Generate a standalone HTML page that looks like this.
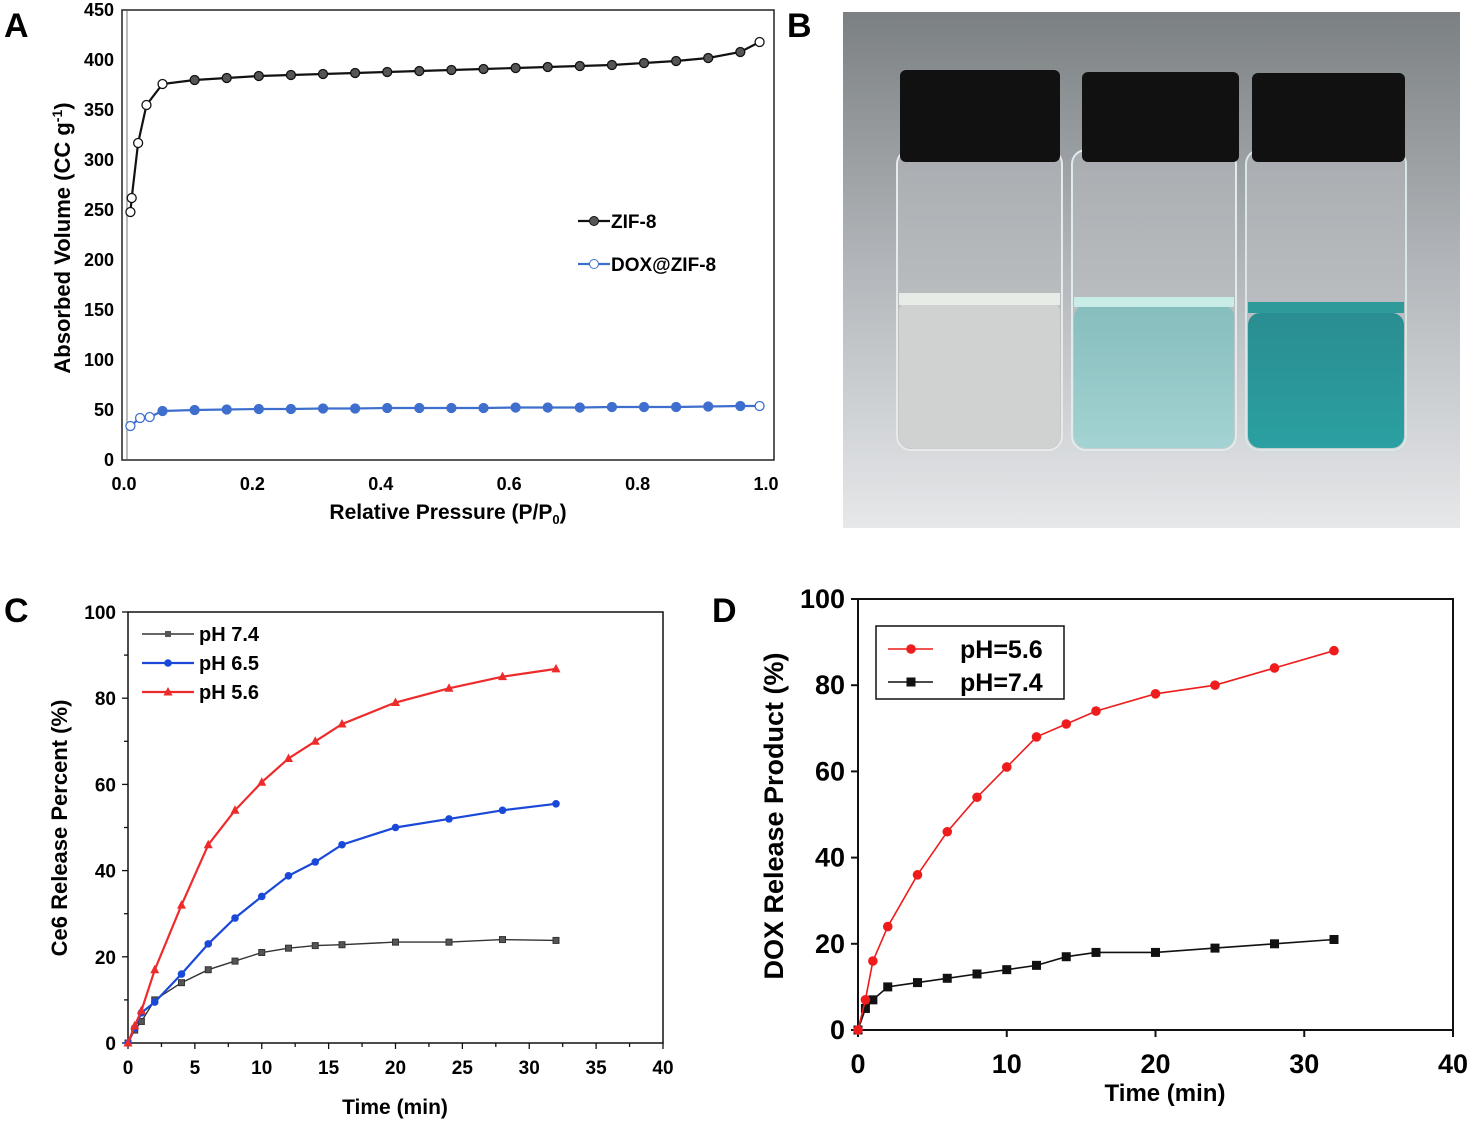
<!DOCTYPE html>
<html><head><meta charset="utf-8"><style>
html,body{margin:0;padding:0;background:#fff;}
svg{display:block;font-family:"Liberation Sans Narrow","Liberation Sans",Arial,sans-serif;font-weight:bold;}
</style></head><body>
<svg id="fig" width="1477" height="1145" viewBox="0 0 1477 1145" xmlns="http://www.w3.org/2000/svg">
<defs>
<linearGradient id="bg" x1="0" y1="0" x2="0" y2="1">
<stop offset="0" stop-color="#7b8083"/><stop offset="0.5" stop-color="#b3b7bb"/><stop offset="1" stop-color="#e6e8ea"/></linearGradient>
<linearGradient id="liq2" x1="0" y1="0" x2="0" y2="1"><stop offset="0" stop-color="#86bdbd"/><stop offset="1" stop-color="#a3d3d2"/></linearGradient>
<linearGradient id="liq3" x1="0" y1="0" x2="0" y2="1"><stop offset="0" stop-color="#2a8d91"/><stop offset="1" stop-color="#2aa0a2"/></linearGradient>
<linearGradient id="glass" x1="0" y1="0" x2="0" y2="1"><stop offset="0" stop-color="#a9adb1"/><stop offset="1" stop-color="#c9ccce"/></linearGradient>
</defs>
<text x="4" y="37" font-size="34" font-family="Liberation Sans">A</text>
<text x="787" y="37" font-size="34" font-family="Liberation Sans">B</text>
<text x="4" y="622" font-size="34" font-family="Liberation Sans">C</text>
<text x="712" y="622" font-size="34" font-family="Liberation Sans">D</text>

<g>
<rect x="843" y="12" width="617" height="516" fill="url(#bg)"/>
<g>
<rect x="897" y="150" width="165" height="300" rx="14" fill="url(#glass)" stroke="#e8eaea" stroke-width="2"/>
<rect x="899" y="300" width="161" height="148" rx="12" fill="#cfd2d1"/>
<rect x="899" y="293" width="161" height="12" fill="#e8ece6"/>
<rect x="900" y="70" width="160" height="92" rx="6" fill="#111"/>
</g>
<g>
<rect x="1072" y="150" width="164" height="300" rx="14" fill="url(#glass)" stroke="#e0eceb" stroke-width="2"/>
<rect x="1074" y="305" width="160" height="143" rx="12" fill="url(#liq2)"/>
<rect x="1074" y="297" width="160" height="10" fill="#c8ece8"/>
<rect x="1082" y="72" width="157" height="90" rx="6" fill="#111"/>
</g>
<g>
<rect x="1246" y="150" width="160" height="300" rx="14" fill="url(#glass)" stroke="#d8e6e6" stroke-width="2"/>
<rect x="1248" y="313" width="156" height="135" rx="12" fill="url(#liq3)"/>
<rect x="1248" y="302" width="156" height="11" fill="#2e9a9a"/>
<rect x="1252" y="73" width="153" height="89" rx="6" fill="#111"/>
</g>
</g>
<g id="gA"></g><g id="gC"></g><g id="gD"></g>
</svg>
<script>
const aZifX = [0.01,0.012,0.022,0.035,0.06,0.11,0.16,0.21,0.26,0.31,0.36,0.41,0.46,0.51,0.56,0.61,0.66,0.71,0.76,0.81,0.86,0.91,0.96,0.99];
const aZifY = [248,262,317,355,376,380,382,384,385,386,387,388,389,390,391,392,393,394,395,397,399,402,408,418];
const aDoxX = [0.01,0.025,0.04,0.06,0.11,0.16,0.21,0.26,0.31,0.36,0.41,0.46,0.51,0.56,0.61,0.66,0.71,0.76,0.81,0.86,0.91,0.96,0.99];
const aDoxY = [34,42,43,49,50,50.5,51,51,51.5,51.5,52,52,52,52,52.5,52.5,52.5,53,53,53,53.5,54,54];
const aXTicks = [0,0.2,0.4,0.6,0.8,1.0];
const aXLabels = ["0.0","0.2","0.4","0.6","0.8","1.0"];
const aYTicks = [0,50,100,150,200,250,300,350,400,450];
const cT = [0,0.5,1,2,4,6,8,10,12,14,16,20,24,28,32];
const c74 = [0,3,5,10,14,17,19,21,22,22.6,22.8,23.4,23.4,24,23.8];
const c65 = [0,3.5,7,9.5,16,23,29,34,38.8,42,46,50,52,54,55.5];
const c56 = [0,4,7.5,17,32,46,54,60.5,66,70,74,79,82.3,85,86.8];
const cXTicks = [0,5,10,15,20,25,30,35,40];
const cYTicks = [0,20,40,60,80,100];
const dT = [0,0.5,1,2,4,6,8,10,12,14,16,20,24,28,32];
const d56 = [0,7,16,24,36,46,54,61,68,71,74,78,80,84,88];
const d74 = [0,5,7,10,11,12,13,14,15,17,18,18,19,20,21];
const dXTicks = [0,10,20,30,40];
const dYTicks = [0,20,40,60,80,100];

const NS="http://www.w3.org/2000/svg";
function mk(parent,tag,attrs,text){const e=document.createElementNS(NS,tag);for(const k in attrs)e.setAttribute(k,attrs[k]);if(text!==undefined)e.textContent=text;parent.appendChild(e);return e;}
function lin(d0,d1,r0,r1){return v=>r0+(v-d0)/(d1-d0)*(r1-r0);}
function pathOf(xs,ys,sx,sy){return xs.map((x,i)=>(i?'L':'M')+sx(x).toFixed(1)+','+sy(ys[i]).toFixed(1)).join(' ');}

(function(){
const g=document.getElementById('gA');
const sx=lin(0,1,124,766), sy=lin(0,450,460,10);
let e=mk(g,'rect',{x:122,y:10,width:652,height:450,fill:'none',stroke:'#222','stroke-width':1.5});

mk(g,'line',{x1:127,y1:11,x2:127,y2:459,stroke:'#bbb','stroke-width':2});
aYTicks.forEach(v=>{const t=mk(g,'text',{x:114,y:sy(v)+6,'text-anchor':'end','font-size':18},String(v));
});
aXTicks.forEach((v,i)=>{const t=mk(g,'text',{x:sx(v),y:490,'text-anchor':'middle','font-size':18},aXLabels[i]);
});
let t=mk(g,'text',{x:448,y:519,'text-anchor':'middle','font-size':21},'');
t.innerHTML='Relative Pressure (P/P<tspan font-size="13" dy="5">0</tspan><tspan dy="-5">)</tspan>';

t=mk(g,'text',{x:0,y:0,'text-anchor':'middle','font-size':22,transform:'translate(70,238) rotate(-90)'},'');
t.innerHTML='Absorbed Volume (CC g<tspan font-size="14" dy="-8">-1</tspan><tspan dy="8">)</tspan>';

let p=mk(g,'path',{d:pathOf(aZifX,aZifY,sx,sy),fill:'none',stroke:'#111','stroke-width':2.2});

aZifX.forEach((x,i)=>{const c=mk(g,'circle',{cx:sx(x),cy:sy(aZifY[i]),r:4.5,fill:i<5||i==aZifX.length-1?'#fff':'#555',stroke:'#111','stroke-width':1.3});
});
p=mk(g,'path',{d:pathOf(aDoxX,aDoxY,sx,sy),fill:'none',stroke:'#3f6fce','stroke-width':2.2});

aDoxX.forEach((x,i)=>{const c=mk(g,'circle',{cx:sx(x),cy:sy(aDoxY[i]),r:4.5,fill:i<3||i==aDoxX.length-1?'#fff':'#3f6fce',stroke:'#3f6fce','stroke-width':1.3});
});
let lg=mk(g,'g',{});
mk(lg,'line',{x1:578,y1:221,x2:610,y2:221,stroke:'#111','stroke-width':2.2});
mk(lg,'circle',{cx:594,cy:221,r:4.5,fill:'#555',stroke:'#111'});
mk(lg,'text',{x:611,y:228,'font-size':19},'ZIF-8');
mk(lg,'line',{x1:578,y1:264,x2:610,y2:264,stroke:'#3f6fce','stroke-width':2.2});
mk(lg,'circle',{cx:594,cy:264,r:4.5,fill:'#fff',stroke:'#3f6fce'});
mk(lg,'text',{x:611,y:271,'font-size':19},'DOX@ZIF-8');
})();

(function(){
const g=document.getElementById('gC');
const sx=lin(0,40,128,663), sy=lin(0,100,1043,612);
let e=mk(g,'rect',{x:128,y:612,width:535,height:431,fill:'none',stroke:'#111','stroke-width':1.5});

for(let v=0;v<=40;v+=2.5){const maj=v%5===0;mk(g,'line',{x1:sx(v),y1:1043,x2:sx(v),y2:1043+(maj?6:4),stroke:'#111','stroke-width':1.3});}
for(let v=0;v<=100;v+=10){const maj=v%20===0;mk(g,'line',{x1:128,y1:sy(v),x2:128-(maj?6:4),y2:sy(v),stroke:'#111','stroke-width':1.3});}
cXTicks.forEach(v=>{const t=mk(g,'text',{x:sx(v),y:1074,'text-anchor':'middle','font-size':19},String(v));
});
cYTicks.forEach(v=>{const t=mk(g,'text',{x:116,y:sy(v)+7,'text-anchor':'end','font-size':19},String(v));
});
let t=mk(g,'text',{x:395,y:1114,'text-anchor':'middle','font-size':21},'Time (min)');

t=mk(g,'text',{x:0,y:0,'text-anchor':'middle','font-size':22,transform:'translate(67,828) rotate(-90)'},'Ce6 Release Percent (%)');

const series=[[c74,'#333','sq',1.4,'ph74'],[c65,'#1a48d8','ci',2.2,'ph65'],[c56,'#ee2b2b','tr',2.2,'ph56']];
series.forEach(([ys,col,m,w,nm])=>{
 const p=mk(g,'path',{d:pathOf(cT,ys,sx,sy),fill:'none',stroke:col,'stroke-width':w});
 
 cT.forEach((x,i)=>{const X=sx(x),Y=sy(ys[i]);let el;
  if(m==='sq')el=mk(g,'rect',{x:X-3,y:Y-3,width:6,height:6,fill:'#555',stroke:col});
  else if(m==='ci')el=mk(g,'circle',{cx:X,cy:Y,r:3.8,fill:col});
  else el=mk(g,'path',{d:`M${X},${Y-5}L${X+4.5},${Y+3.5}L${X-4.5},${Y+3.5}Z`,fill:col});
  });
});
let lg=mk(g,'g',{});
[['pH 7.4','#333',1.4,'sq'],['pH 6.5','#1a48d8',2.2,'ci'],['pH 5.6','#ee2b2b',2.2,'tr']].forEach(([lab,col,w,m],i)=>{
 const y=634+i*29;mk(lg,'line',{x1:142,y1:y,x2:194,y2:y,stroke:col,'stroke-width':w});
 if(m==='sq')mk(lg,'rect',{x:165,y:y-3,width:6,height:6,fill:'#555'});
 else if(m==='ci')mk(lg,'circle',{cx:168,cy:y,r:3.8,fill:col});
 else mk(lg,'path',{d:`M168,${y-5}L172.5,${y+3.5}L163.5,${y+3.5}Z`,fill:col});
 mk(lg,'text',{x:199,y:y+7,'font-size':20},lab);});
})();

(function(){
const g=document.getElementById('gD');
const sx=lin(0,40,858,1453), sy=lin(0,100,1030,599);
let e=mk(g,'rect',{x:858,y:599,width:595,height:431,fill:'none',stroke:'#111','stroke-width':2});

dXTicks.forEach(v=>{mk(g,'line',{x1:sx(v),y1:1030,x2:sx(v),y2:1037,stroke:'#111','stroke-width':2});
 const t=mk(g,'text',{x:sx(v),y:1073,'text-anchor':'middle','font-size':27},String(v));
 });
dYTicks.forEach(v=>{mk(g,'line',{x1:858,y1:sy(v),x2:851,y2:sy(v),stroke:'#111','stroke-width':2});
 const t=mk(g,'text',{x:845,y:sy(v)+9,'text-anchor':'end','font-size':27},String(v));
 });
let t=mk(g,'text',{x:1165,y:1101,'text-anchor':'middle','font-size':24},'Time (min)');

t=mk(g,'text',{x:0,y:0,'text-anchor':'middle','font-size':27,transform:'translate(783,816) rotate(-90)'},'DOX Release Product (%)');

let p=mk(g,'path',{d:pathOf(dT,d74,sx,sy),fill:'none',stroke:'#111','stroke-width':1.6});

dT.forEach((x,i)=>{const r=mk(g,'rect',{x:sx(x)-4.5,y:sy(d74[i])-4.5,width:9,height:9,fill:'#111'});
 });
p=mk(g,'path',{d:pathOf(dT,d56,sx,sy),fill:'none',stroke:'#ee1c1c','stroke-width':1.6});

dT.forEach((x,i)=>{const c=mk(g,'circle',{cx:sx(x),cy:sy(d56[i]),r:4.8,fill:'#ee1c1c'});
 });
let lg=mk(g,'g',{});
mk(lg,'rect',{x:876,y:626,width:188,height:73,fill:'#fff',stroke:'#111','stroke-width':1.5});
mk(lg,'line',{x1:888,y1:649,x2:933,y2:649,stroke:'#ee1c1c','stroke-width':1.6});
mk(lg,'circle',{cx:911,cy:649,r:4.8,fill:'#ee1c1c'});
mk(lg,'text',{x:960,y:658,'font-size':25},'pH=5.6');
mk(lg,'line',{x1:888,y1:682,x2:933,y2:682,stroke:'#111','stroke-width':1.6});
mk(lg,'rect',{x:906.5,y:677.5,width:9,height:9,fill:'#111'});
mk(lg,'text',{x:960,y:691,'font-size':25},'pH=7.4');
})();
</script>
</body></html>
